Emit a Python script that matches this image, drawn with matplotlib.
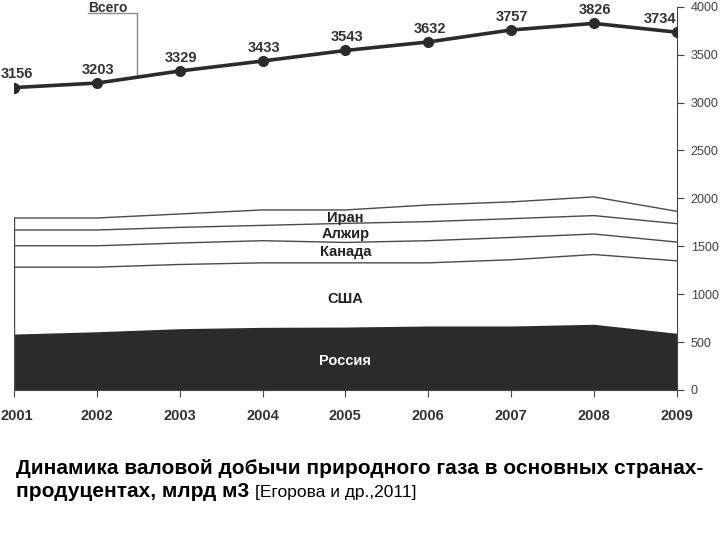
import matplotlib

matplotlib.use("Agg")

import matplotlib.pyplot as plt
import matplotlib.transforms as mtransforms
import numpy as np

years = [2001, 2002, 2003, 2004, 2005, 2006, 2007, 2008, 2009]
total = [3156, 3203, 3329, 3433, 3543, 3632, 3757, 3826, 3734]

# cumulative upper edges of the stacked layers
russia_top = [584, 608, 640, 654, 657, 668, 668, 686, 592]
usa_top = [1282, 1282, 1310, 1327, 1327, 1327, 1359, 1414, 1348]
canada_top = [1505, 1505, 1534, 1558, 1540, 1558, 1592, 1628, 1544]
algeria_top = [1670, 1670, 1697, 1718, 1739, 1757, 1788, 1820, 1736]
iran_top = [1795, 1795, 1837, 1879, 1879, 1931, 1963, 2015, 1865]

layer_names = ["Россия", "США", "Канада", "Алжир", "Иран"]
label_y = [300, 950, 1435, 1625, 1795]

caption_line1 = "Динамика валовой добычи природного газа в основных странах-"
caption_line2 = "продуцентах, млрд м3"
caption_ref = "[Егорова и др.,2011]"

DARK = "#2b2b2b"
LINE = "#4a4a4a"

plt.rcParams["font.family"] = ["Liberation Sans", "DejaVu Sans"]

fig = plt.figure(figsize=(7.2, 5.4), dpi=100)
ax = fig.add_axes([14 / 720, 150 / 540, (676.7 - 14) / 720, (390 - 6.7) / 540])

x = np.array(years)
ax.fill_between(x, 0, russia_top, color=DARK, lw=0)
for top in (usa_top, canada_top, algeria_top, iran_top):
    ax.plot(x, top, color=LINE, lw=1.0)
ax.plot([years[0], years[0]], [0, iran_top[0]], color=LINE, lw=1.0)

mid = (years[0] + years[-1]) / 2
for name, yv in zip(layer_names, label_y):
    ax.text(mid, yv, name, ha="center", va="center", fontsize=10.5, fontweight="bold",
            color="white" if name == "Россия" else "#222222")

ax.plot(x, total, color=DARK, lw=2.6, marker="o", ms=7, zorder=5)
for i, (xv, yv) in enumerate(zip(years, total)):
    last = i == len(years) - 1
    dx = 2 if i == 0 else (0 if last else 1)
    ax.annotate(str(yv), (xv, yv), xytext=(dx, 4.5), textcoords="offset points",
                ha="right" if last else "center", va="bottom", fontsize=10.5,
                fontweight="bold", color="#333333", annotation_clip=False)

# leader for "Всего"
ax.plot([2001.89, 2002.485, 2002.485], [3935, 3935, 3275], color="#8a8a8a", lw=1.0, clip_on=False)
fig.text(108 / 720, 1 - 0.5 / 540, "Всего", ha="center", va="top", fontsize=10,
         fontweight="bold", color="#333333")

ax.set_xlim(years[0], years[-1])
ax.set_ylim(0, 4000)
for side in ("left", "top"):
    ax.spines[side].set_visible(False)
ax.spines["right"].set_color("#444444")
ax.spines["bottom"].set_color("#444444")
ax.yaxis.tick_right()
ax.set_yticks(np.arange(0, 4001, 500))
ax.set_xticks(years)
ax.set_xticklabels([str(y) for y in years], fontweight="bold", fontsize=10.5, color="#333333")
ax.tick_params(axis="y", direction="out", length=5, color="#444444", labelsize=9,
               labelcolor="#444444", pad=5)
ax.tick_params(axis="x", direction="out", length=5, color="#444444", pad=9)

# nudge the first year label inside the figure edge
first = ax.get_xticklabels()[0]
first.set_transform(first.get_transform() + mtransforms.ScaledTranslation(3 / 100, 0, fig.dpi_scale_trans))

fig.text(16 / 720, 1 - 474 / 540, caption_line1, ha="left", va="baseline", fontsize=15,
         fontweight="bold", color="black")
line2 = fig.text(16 / 720, 1 - 497 / 540, caption_line2, ha="left", va="baseline", fontsize=15,
                 fontweight="bold", color="black")
fig.canvas.draw()
bb = line2.get_window_extent()
fig.text((bb.x1 + 6) / 720, 1 - 497 / 540, caption_ref, ha="left", va="baseline",
         fontsize=12.5, color="black")

fig.savefig("out.png", dpi=100)
